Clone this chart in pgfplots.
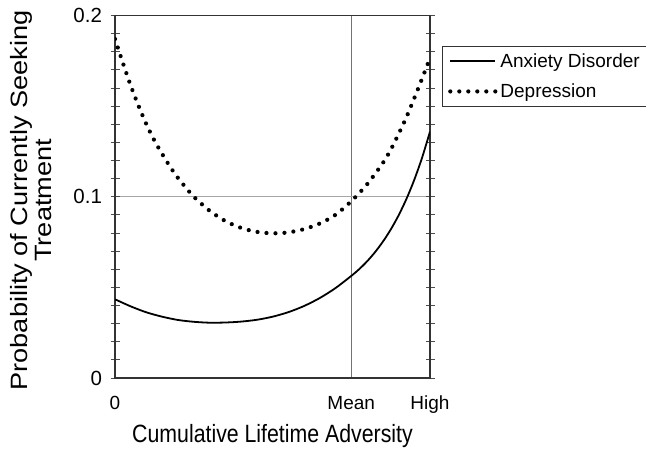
\documentclass[border=0pt]{standalone}
\usepackage{pgfplots}
\pgfplotsset{compat=1.18}
\usepackage{fontspec}
\setmainfont{Liberation Sans}
\newfontfamily\ylabfont{Liberation Sans}[FakeStretch=1.15]
\newfontfamily\xlabfont{Liberation Sans}[FakeStretch=0.852]

\pgfplotstableread{
x y
0.0 0.1870
0.1 0.1738
0.2 0.1612
0.3 0.1500
0.4 0.1398
0.5 0.1310
0.6 0.1235
0.7 0.1165
0.8 0.1103
0.9 0.1050
1.0 0.1000
1.2 0.0923
1.4 0.0866
1.6 0.0828
1.8 0.0806
2.0 0.0798
2.2 0.0803
2.4 0.0821
2.6 0.0852
2.8 0.0900
3.0 0.0975
3.2 0.1068
3.4 0.1185
3.5 0.1258
3.6 0.1345
3.7 0.1438
3.8 0.1543
3.9 0.1652
4.0 0.1765
}\depression

\pgfplotstableread{
x y
0.0 0.0434
0.2 0.0395
0.4 0.0362
0.6 0.0338
0.8 0.0320
1.0 0.0310
1.2 0.0305
1.4 0.0306
1.6 0.0311
1.8 0.0321
2.0 0.0338
2.2 0.0363
2.4 0.0397
2.6 0.0441
2.8 0.0496
3.0 0.0563
3.1 0.0600
3.2 0.0643
3.3 0.0693
3.4 0.0751
3.5 0.0818
3.6 0.0896
3.7 0.0987
3.8 0.1093
3.9 0.1216
4.0 0.1359
}\anxiety

\begin{document}
\begin{tikzpicture}[x=1bp,y=1bp]
\useasboundingbox (0,0) rectangle (646,449);
\begin{axis}[
  at={(115bp,71bp)}, anchor=south west,
  scale only axis, width=315bp, height=362.6bp,
  xmin=0, xmax=4, ymin=0, ymax=0.2,
  axis line style={line width=1.2bp, draw=black!80},
  xtick={0,3,4}, xticklabels={0,Mean,High},
  ytick={0,0.1,0.2}, yticklabels={0,0.1,0.2},
  minor y tick num=9,
  tick align=center,
  major tick length=9bp, minor tick length=9bp,
  x tick style={draw=none},
  y tick style={line width=0.8bp, draw=black!70},
  xticklabel style={font=\fontsize{19bp}{22bp}\selectfont, yshift=-10bp},
  yticklabel style={font=\fontsize{20.5bp}{22bp}\selectfont, xshift=-5bp},
  xmajorgrids, ymajorgrids,
  x grid style={line width=0.9bp, draw=black!55},
  y grid style={line width=0.9bp, draw=black!35},
  xlabel={Cumulative Lifetime Adversity},
  xlabel style={font=\xlabfont\fontsize{25bp}{26bp}\selectfont, at={(axis description cs:0.5,-0.16)}, anchor=center},
  ylabel={Probability of Currently Seeking\\Treatment},
  ylabel style={font=\ylabfont\fontsize{23.6bp}{24bp}\selectfont, align=center, at={(axis description cs:-0.267,0.49)}, anchor=center},
  legend style={at={(axis description cs:1.037,0.9156)}, anchor=north west,
    draw=black!80, line width=1.1bp, font=\fontsize{19bp}{22bp}\selectfont,
    inner xsep=6bp, inner ysep=4bp, row sep=9bp,
    nodes={inner sep=3bp}},
  legend cell align=left,
  legend image code/.code={\draw[#1] (0bp,0bp) -- (45bp,0bp);},
]
\addplot[black, line width=1.8bp, smooth] table[x=x,y=y] {\anxiety};
\addlegendentry{Anxiety Disorder}
\addplot[black, line width=4.2bp, line cap=round, dash pattern=on 0pt off 9bp, smooth] table[x=x,y=y] {\depression};
\addlegendentry{Depression}
\end{axis}
\end{tikzpicture}
\end{document}
